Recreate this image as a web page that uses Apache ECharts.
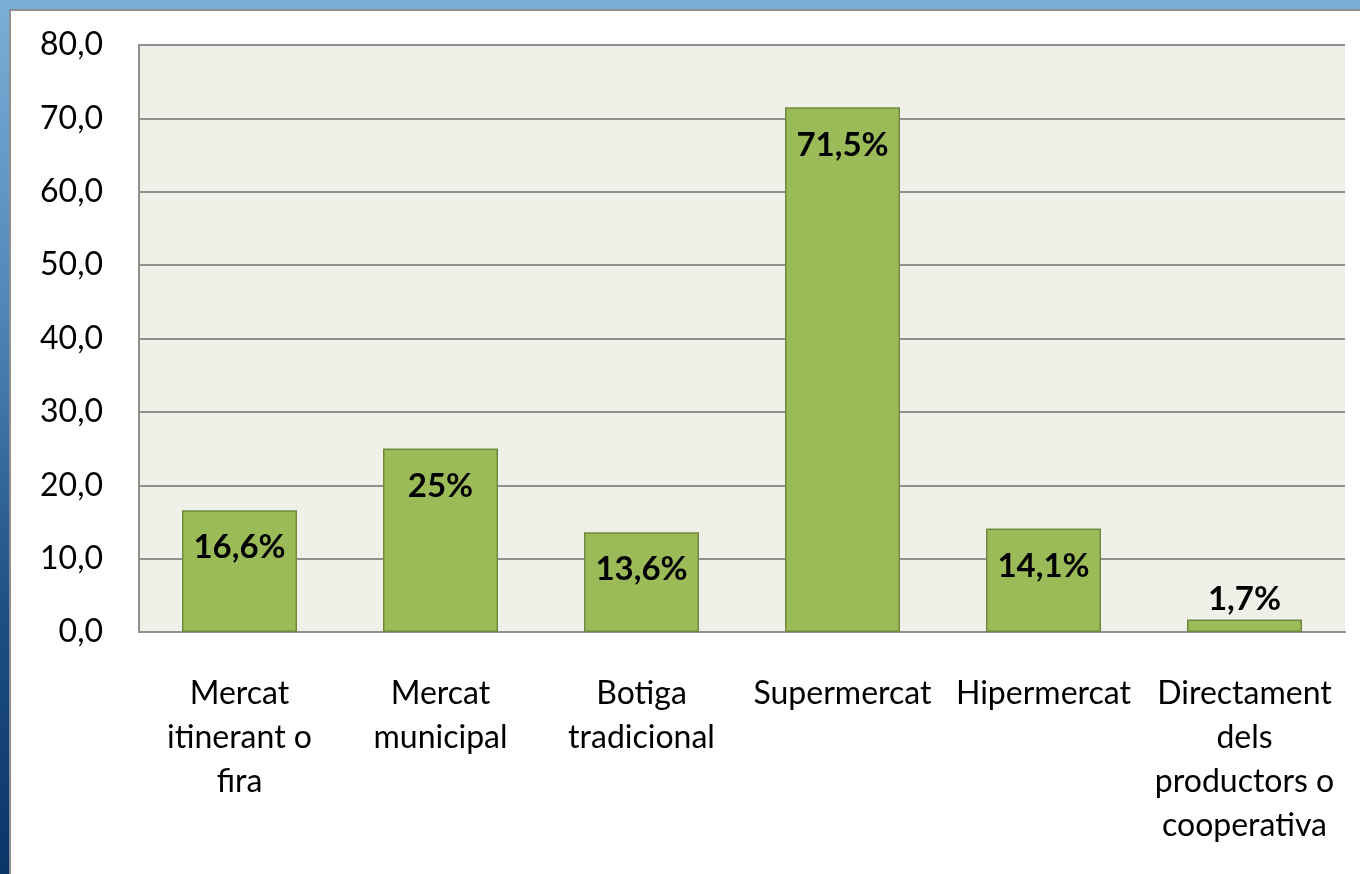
<!DOCTYPE html>
<html>
<head>
<meta charset="utf-8">
<script src="https://cdn.jsdelivr.net/npm/echarts@6/dist/echarts.min.js"></script>
<style>
html, body { margin: 0; padding: 0; }
body {
  width: 1360px; height: 874px; overflow: hidden; position: relative;
  background: linear-gradient(180deg, #7aafd6 0%, #4f87b8 35%, #1d4f85 70%, #0b3467 100%);
}
#card {
  position: absolute; left: 9px; top: 9px; right: 0; bottom: 0;
  background: #ffffff; border-left: 2px solid #8e8e8e; border-top: 2px solid #8e8e8e;
}
#chart { position: absolute; left: 0; top: 0; width: 1360px; height: 874px; }
</style>
</head>
<body>
<div id="card"></div>
<div id="chart"></div>
<script>
const categories = [
  'Mercat\nitinerant o\nfira',
  'Mercat\nmunicipal',
  'Botiga\ntradicional',
  'Supermercat',
  'Hipermercat',
  'Directament\ndels\nproductors o\ncooperativa'
];
const values = [16.6, 25, 13.6, 71.5, 14.1, 1.7];
const yMin = 0, yMax = 80, yStep = 10;

const fmtPct = v => String(v).replace('.', ',') + '%';
const FONT = 'Lato, "Open Sans", sans-serif';

const chart = echarts.init(document.getElementById('chart'), null, { renderer: 'canvas' });
chart.setOption({
  backgroundColor: 'transparent',
  animation: false,
  grid: {
    left: 139, right: 15, top: 45, bottom: 242,
    show: true, backgroundColor: '#eff1e9', borderWidth: 0
  },
  xAxis: {
    type: 'category',
    data: categories,
    axisLine: { show: true, lineStyle: { color: '#8f8f8f', width: 2 } },
    axisTick: { show: false },
    axisLabel: {
      interval: 0, margin: 40, color: '#000', fontFamily: FONT, fontSize: 32,
      lineHeight: 44, align: 'center'
    }
  },
  yAxis: {
    type: 'value', min: yMin, max: yMax, interval: yStep,
    axisLine: { show: true, lineStyle: { color: '#8f8f8f', width: 2 } },
    axisTick: { show: false },
    splitLine: { show: true, lineStyle: { color: '#8f8f8f', width: 2 } },
    axisLabel: {
      margin: 36, color: '#000', fontFamily: FONT, fontSize: 32,
      formatter: v => v.toFixed(1).replace('.', ',')
    }
  },
  series: [{
    type: 'bar',
    barWidth: 115,
    data: values.map((v, i) => ({
      value: v,
      label: v < 5 ? { position: 'top', distance: 4 } : { position: 'insideTop', distance: 21 }
    })),
    itemStyle: { color: '#9bbb59', borderColor: '#71893f', borderWidth: 1.5 },
    label: {
      show: true, color: '#000', fontFamily: FONT, fontWeight: 'bold', fontSize: 33,
      formatter: p => fmtPct(p.value)
    }
  }]
});
</script>
</body>
</html>
